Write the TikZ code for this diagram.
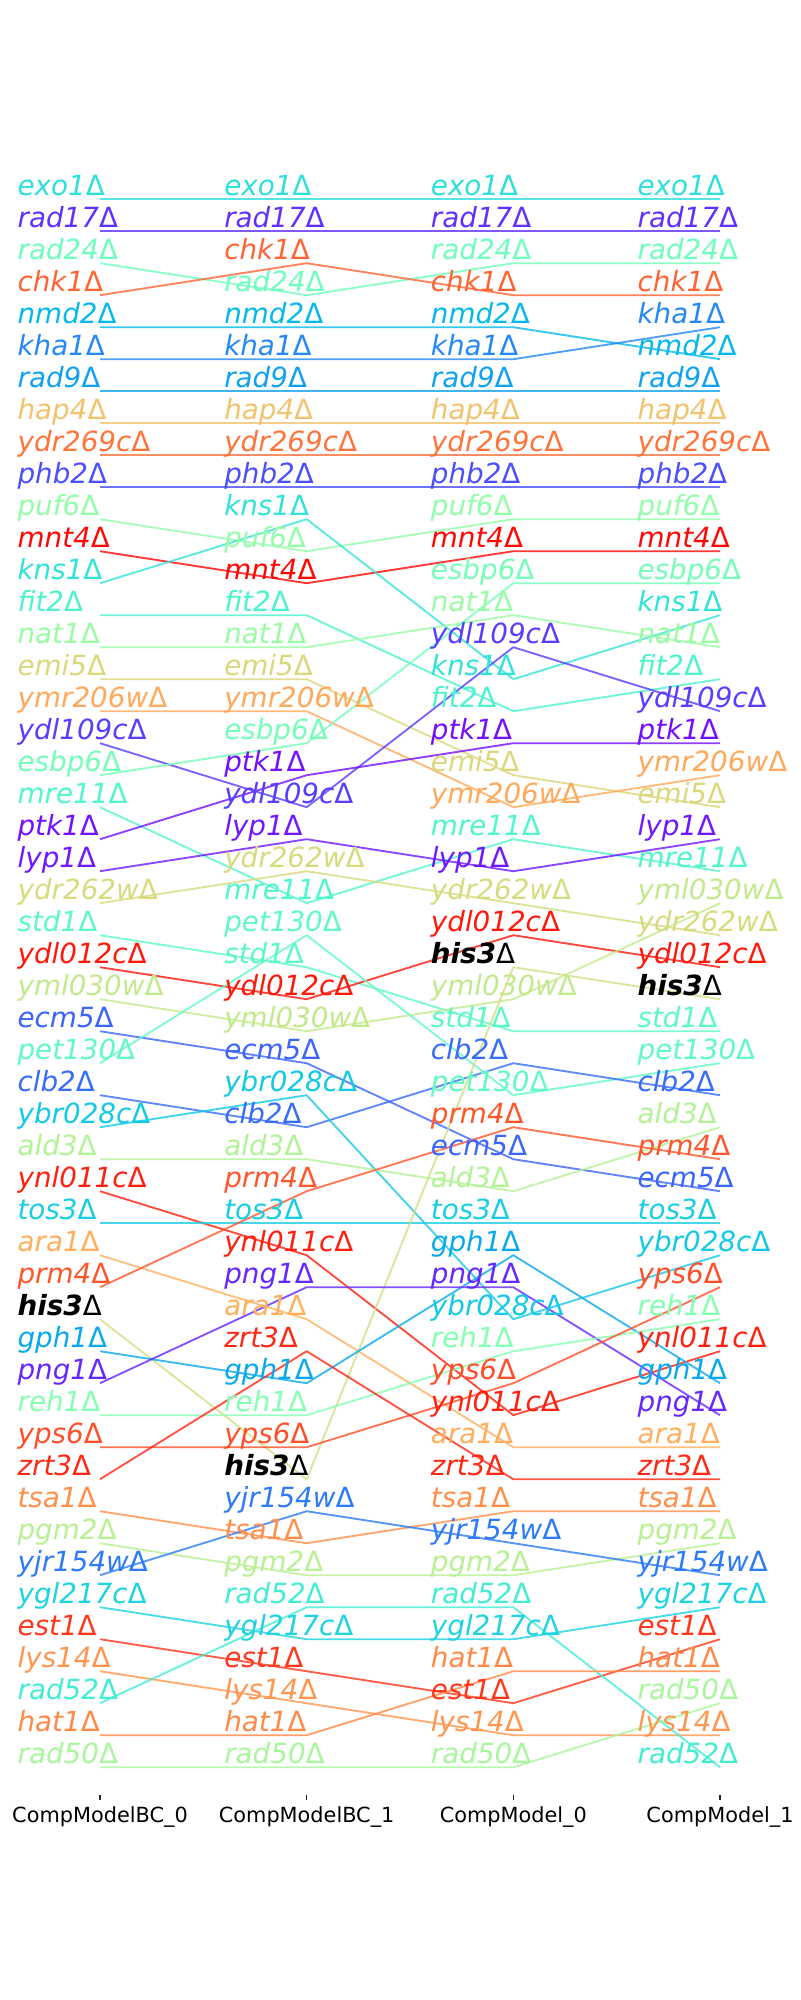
\documentclass[tikz,border=0pt]{standalone}
\usepackage{fontspec}
\setmainfont{DejaVu Sans}[ItalicFont={DejaVu Sans Oblique},BoldFont={DejaVu Sans Bold},BoldItalicFont={DejaVu Sans Bold Oblique}]
\usetikzlibrary{backgrounds}
\newcommand{\rb}[2]{%
 \pgfmathsetmacro\rbR{min(1,abs(2*#2-0.5))}%
 \pgfmathsetmacro\rbG{max(0,sin(180*#2))}%
 \pgfmathsetmacro\rbB{max(0,cos(90*#2))}%
 \definecolor{g#1}{rgb}{\rbR,\rbG,\rbB}}
\rb{exo1}{0.34}\rb{rad17}{0.06}\rb{rad24}{0.47}\rb{chk1}{0.87}\rb{nmd2}{0.26}
\rb{kha1}{0.18}\rb{rad9}{0.22}\rb{hap4}{0.72}\rb{ydr269c}{0.85}\rb{phb2}{0.10}
\rb{puf6}{0.54}\rb{mnt4}{0.99}\rb{kns1}{0.35}\rb{fit2}{0.40}\rb{nat1}{0.55}
\rb{emi5}{0.68}\rb{ymr206w}{0.77}\rb{ydl109c}{0.08}\rb{esbp6}{0.48}\rb{mre11}{0.41}
\rb{ptk1}{0.02}\rb{lyp1}{0.03}\rb{ydr262w}{0.67}\rb{std1}{0.43}\rb{ydl012c}{0.97}
\rb{yml030w}{0.63}\rb{ecm5}{0.13}\rb{pet130}{0.44}\rb{clb2}{0.14}\rb{ybr028c}{0.29}
\rb{ald3}{0.60}\rb{ynl011c}{0.96}\rb{tos3}{0.30}\rb{ara1}{0.76}\rb{prm4}{0.89}
\rb{his3}{0.66}\rb{gph1}{0.23}\rb{png1}{0.05}\rb{reh1}{0.51}\rb{yps6}{0.90}
\rb{zrt3}{0.95}\rb{tsa1}{0.81}\rb{pgm2}{0.61}\rb{yjr154w}{0.16}\rb{ygl217c}{0.31}
\rb{est1}{0.93}\rb{lys14}{0.80}\rb{rad52}{0.38}\rb{hat1}{0.82}\rb{rad50}{0.58}
\def\hisname{his3}
\newcommand{\glab}[1]{\edef\tmpa{#1}\ifx\tmpa\hisname{\bfseries\itshape his3}{\upshape Δ}\else\textcolor{g\tmpa}{\itshape\tmpa\upshape Δ}\fi}
\newcommand{\drawcol}[3]{%
 \foreach \g [count=\r] in {#3} {%
  \pgfmathsetmacro\yy{199.2+32*(\r-1)}%
  \coordinate (p#1-\g) at (#2,\yy);
  \node[genetext] (t#1-\g) at (#2-82.67,\yy-3.3) {\glab{\g}};
 }}
\begin{document}
\begin{tikzpicture}[x=0.72pt,y=-0.72pt,
  genetext/.style={anchor=base west, inner sep=0pt, font=\fontsize{20}{24}\selectfont},
  link/.style={line width=1.35pt, opacity=0.8, line join=round},
  tickmark/.style={line width=0.8pt, draw=black!85},
  ticklabel/.style={anchor=base, inner sep=0pt, font=\fontsize{15}{18}\selectfont}]
\useasboundingbox (0,0) rectangle (800,2000);
\drawcol{0}{100}{exo1,rad17,rad24,chk1,nmd2,kha1,rad9,hap4,ydr269c,phb2,puf6,mnt4,kns1,fit2,nat1,emi5,ymr206w,ydl109c,esbp6,mre11,ptk1,lyp1,ydr262w,std1,ydl012c,yml030w,ecm5,pet130,clb2,ybr028c,ald3,ynl011c,tos3,ara1,prm4,his3,gph1,png1,reh1,yps6,zrt3,tsa1,pgm2,yjr154w,ygl217c,est1,lys14,rad52,hat1,rad50}
\drawcol{1}{306.67}{exo1,rad17,chk1,rad24,nmd2,kha1,rad9,hap4,ydr269c,phb2,kns1,puf6,mnt4,fit2,nat1,emi5,ymr206w,esbp6,ptk1,ydl109c,lyp1,ydr262w,mre11,pet130,std1,ydl012c,yml030w,ecm5,ybr028c,clb2,ald3,prm4,tos3,ynl011c,png1,ara1,zrt3,gph1,reh1,yps6,his3,yjr154w,tsa1,pgm2,rad52,ygl217c,est1,lys14,hat1,rad50}
\drawcol{2}{513.33}{exo1,rad17,rad24,chk1,nmd2,kha1,rad9,hap4,ydr269c,phb2,puf6,mnt4,esbp6,nat1,ydl109c,kns1,fit2,ptk1,emi5,ymr206w,mre11,lyp1,ydr262w,ydl012c,his3,yml030w,std1,clb2,pet130,prm4,ecm5,ald3,tos3,gph1,png1,ybr028c,reh1,yps6,ynl011c,ara1,zrt3,tsa1,yjr154w,pgm2,rad52,ygl217c,hat1,est1,lys14,rad50}
\drawcol{3}{720}{exo1,rad17,rad24,chk1,kha1,nmd2,rad9,hap4,ydr269c,phb2,puf6,mnt4,esbp6,kns1,nat1,fit2,ydl109c,ptk1,ymr206w,emi5,lyp1,mre11,yml030w,ydr262w,ydl012c,his3,std1,pet130,clb2,ald3,prm4,ecm5,tos3,ybr028c,yps6,reh1,ynl011c,gph1,png1,ara1,zrt3,tsa1,pgm2,yjr154w,ygl217c,est1,hat1,rad50,lys14,rad52}
\begin{pgfonlayer}{background}
\fill[white] (0,0) rectangle (800,2000);
\foreach \g in {exo1,rad17,rad24,chk1,nmd2,kha1,rad9,hap4,ydr269c,phb2,puf6,mnt4,kns1,fit2,nat1,emi5,ymr206w,ydl109c,esbp6,mre11,ptk1,lyp1,ydr262w,std1,ydl012c,yml030w,ecm5,pet130,clb2,ybr028c,ald3,ynl011c,tos3,ara1,prm4,his3,gph1,png1,reh1,yps6,zrt3,tsa1,pgm2,yjr154w,ygl217c,est1,lys14,rad52,hat1,rad50}
  {\draw[link, draw=g\g] (p0-\g) -- (p1-\g) -- (p2-\g) -- (p3-\g);}
\end{pgfonlayer}
\foreach \c/\xx/\nm in {0/100/CompModelBC\_0,1/306.67/CompModelBC\_1,2/513.33/CompModel\_0,3/720/CompModel\_1} {
  \coordinate (tk\c) at (\xx,1795);
  \coordinate (tb\c) at (\xx,1800);
  \draw[tickmark] (tk\c) -- (tb\c);
  \node[ticklabel] (lab\c) at (\xx,1822.3) {\nm};
}
\end{tikzpicture}
\end{document}
